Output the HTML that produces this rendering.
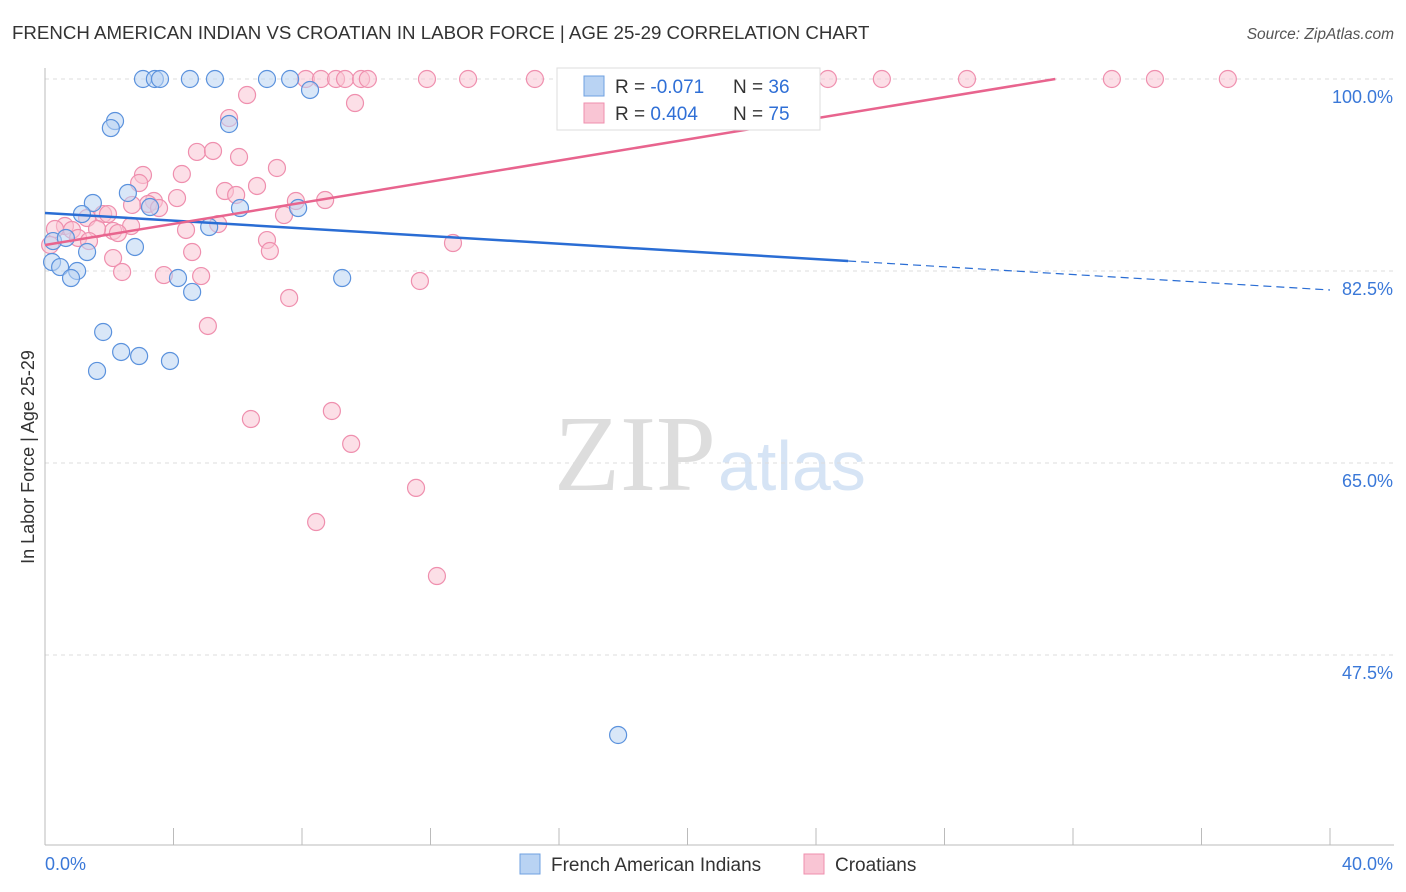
<!DOCTYPE html>
<html><head><meta charset="utf-8"><style>
body{margin:0;background:#fff;font-family:"Liberation Sans",sans-serif}
svg{display:block}
</style></head><body>
<svg width="1406" height="892">
<text x="12" y="39" font-size="18.7" fill="#333">FRENCH AMERICAN INDIAN VS CROATIAN IN LABOR FORCE | AGE 25-29 CORRELATION CHART</text>
<text x="1394" y="39" font-size="15.5" fill="#555" font-style="italic" text-anchor="end">Source: ZipAtlas.com</text>
<text x="716" y="490" font-size="108" fill="#ddd" text-anchor="end" font-family="Liberation Serif">ZIP</text>
<text x="718" y="490" font-size="70" fill="#d6e4f5">atlas</text>
<g id="grid"></g>
<g id="axes"></g>
<g id="pts"></g>
<g id="lines"></g>
<text transform="translate(34,457) rotate(-90)" font-size="18" fill="#333" text-anchor="middle">In Labor Force | Age 25-29</text>
<g>
<rect x="557" y="68" width="263" height="62" fill="#fff" stroke="#ddd"/>
<rect x="584" y="76" width="20" height="20" fill="#b9d3f3" stroke="#6fa0e0"/>
<rect x="584" y="103" width="20" height="20" fill="#f9c5d4" stroke="#ef8fae"/>
<text x="615" y="93" font-size="19" fill="#333">R = <tspan fill="#2f6fd6">-0.071</tspan><tspan x="733">N = </tspan><tspan fill="#2f6fd6">36</tspan></text>
<text x="615" y="120" font-size="19" fill="#333">R = <tspan fill="#2f6fd6"> 0.404</tspan><tspan x="733">N = </tspan><tspan fill="#2f6fd6">75</tspan></text>
</g>
<g>
<rect x="520" y="854" width="20" height="20" fill="#b9d3f3" stroke="#6fa0e0"/>
<text x="551" y="871" font-size="19" fill="#333">French American Indians</text>
<rect x="804" y="854" width="20" height="20" fill="#f9c5d4" stroke="#ef8fae"/>
<text x="835" y="871" font-size="19" fill="#333">Croatians</text>
</g>
</svg>
<script>
const yTicks=[100,82.5,65,47.5];
const yTickLabels=["100.0%","82.5%","65.0%","47.5%"];
const xTickLabels=["0.0%","40.0%"];
const blueX=[3.05,3.42,3.58,4.51,5.29,6.91,7.63,8.25,23.63,2.18,2.05,5.73,1.49,2.58,3.27,6.07,7.88,1.15,5.11,0.25,0.65,2.80,1.31,0.22,0.47,1.0,0.81,4.14,4.58,9.25,1.81,2.37,2.93,3.89,1.62,17.84];
const blueY=[100,100,100,100,100,100,100,99.0,100,96.17,95.53,95.9,88.7,89.61,88.33,88.24,88.24,87.69,86.51,85.23,85.51,84.69,84.23,83.32,82.86,82.5,81.86,81.86,80.59,81.86,76.94,75.12,74.75,74.30,73.39,40.21];
const pinkX=[8.12,8.59,9.06,9.34,9.84,10.05,11.89,13.17,15.25,16.75,22.26,24.37,26.05,28.70,33.21,34.55,36.82,6.29,9.65,5.73,4.73,5.23,6.04,7.22,3.05,4.26,2.93,6.60,5.60,5.95,4.11,3.39,3.21,7.81,8.72,2.71,3.55,7.44,1.81,1.96,1.31,2.68,2.12,5.39,4.39,1.62,0.62,0.31,0.84,1.03,2.27,1.37,6.91,12.70,7.00,4.58,2.12,0.16,2.40,3.70,4.86,11.67,7.60,5.07,6.41,8.93,9.53,11.55,8.44,12.20];
const pinkY=[100,100,100,100,100,100,100,100,100,100,100,100,100,100,100,100,100,98.54,97.81,96.44,93.35,93.44,92.89,91.89,91.25,91.34,90.52,90.25,89.79,89.43,89.15,88.88,88.61,88.88,88.97,88.52,88.24,87.60,87.69,87.69,87.33,86.60,86.15,86.78,86.24,86.33,86.60,86.33,86.24,85.51,85.96,85.23,85.32,85.05,84.32,84.23,83.68,84.87,82.41,82.13,82.04,81.59,80.04,77.49,69.01,69.74,66.74,62.73,59.62,54.70];
const blueTrend=[87.79,83.41,80.77];
const pinkTrend=[84.87,100];
const NS="http://www.w3.org/2000/svg";
const X0=45,X1=1330,Y100=79,PXPER=192/17.5;
function sx(v){return X0+(v/40)*(X1-X0);}
function sy(v){return Y100+(100-v)*PXPER;}
function mk(tag,attrs,parent){const e=document.createElementNS(NS,tag);for(const k in attrs)e.setAttribute(k,attrs[k]);document.getElementById(parent).appendChild(e);return e;}
yTicks.forEach((t,i)=>{
 const l=mk('line',{x1:X0,x2:1394,y1:sy(t),y2:sy(t),stroke:'#ddd','stroke-dasharray':'4,4'},'grid');
 
 
 const tx=mk('text',{x:1393,y:sy(t)+24,'font-size':18,fill:'#3a78d8','text-anchor':'end'},'axes');
 tx.textContent=yTickLabels[i];
 
 
});
const ax=mk('line',{x1:X0,x2:X0,y1:68,y2:845,stroke:'#bbb'},'axes');


const bx=mk('line',{x1:X0,x2:1394,y1:845,y2:845,stroke:'#bbb'},'axes');


for(let v=0;v<=40;v+=4){
 const t=mk('line',{x1:sx(v),x2:sx(v),y1:828,y2:845,stroke:'#bbb'},'axes');
 
 
}
[[0,'start',45],[40,'end',1393]].forEach((d,i)=>{
 const t=mk('text',{x:d[2],y:870,'font-size':18,fill:'#3a78d8','text-anchor':d[1]},'axes');
 t.textContent=xTickLabels[i];
 
 
});
function dots(xs,ys,fill,stroke,name){
 xs.forEach((x,i)=>{
  if(ys[i]===undefined)return;
  const c=mk('circle',{cx:sx(x),cy:sy(ys[i]),r:8.5,fill:fill,'fill-opacity':0.55,stroke:stroke,'stroke-width':1.2},'pts');
  
  
 });
}
dots(pinkX,pinkY,'#f9c5d4','#ef8fae','croatian-point');
dots(blueX,blueY,'#b9d3f3','#5b92dd','french-american-indian-point');
let l=mk('line',{x1:sx(0),y1:sy(blueTrend[0]),x2:sx(25),y2:sy(blueTrend[1]),stroke:'#2a6dd4','stroke-width':2.5},'lines');


l=mk('line',{x1:sx(25),y1:sy(blueTrend[1]),x2:sx(40),y2:sy(blueTrend[2]),stroke:'#2a6dd4','stroke-width':1.2,'stroke-dasharray':'8,5'},'lines');


l=mk('line',{x1:sx(0),y1:sy(pinkTrend[0]),x2:sx(31.45),y2:sy(pinkTrend[1]),stroke:'#e8648e','stroke-width':2.5},'lines');


</script>
</body></html>
